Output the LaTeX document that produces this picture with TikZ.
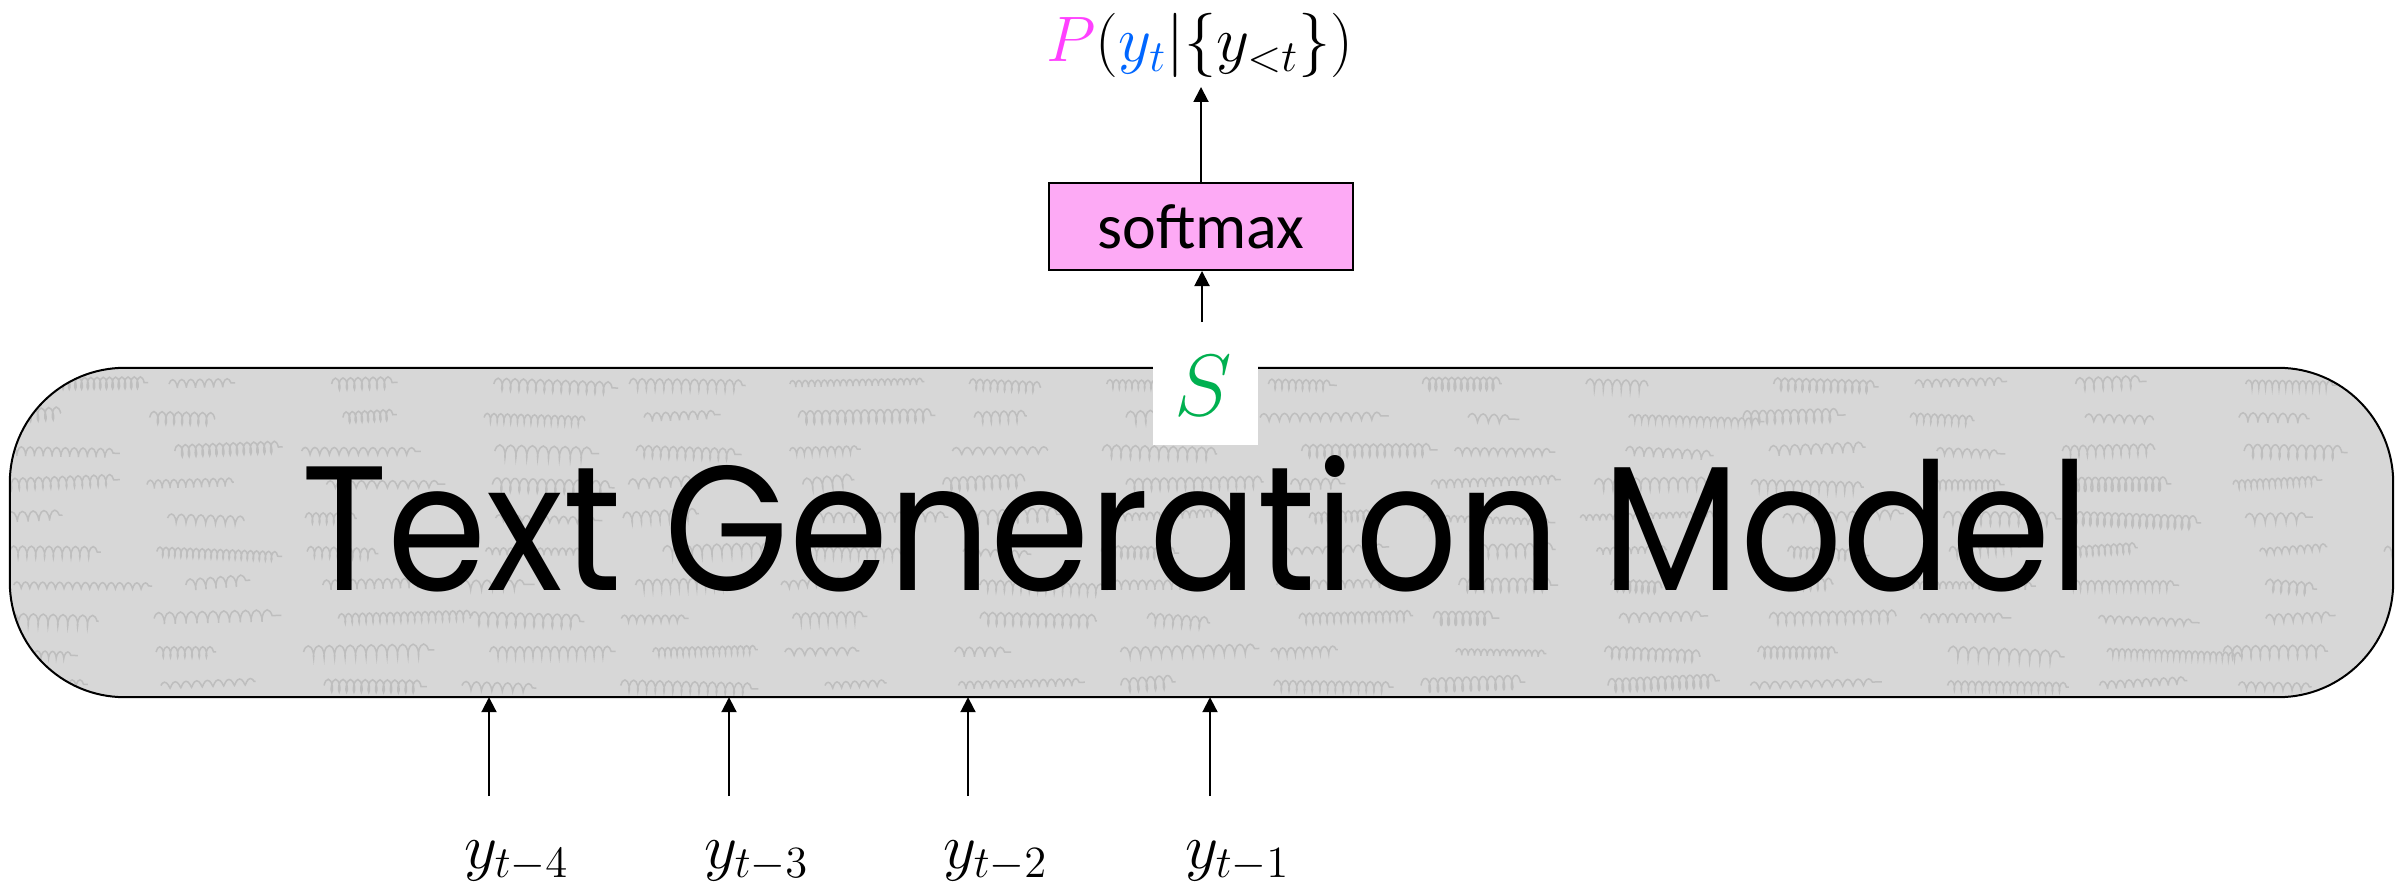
\documentclass[tikz,border=0pt]{standalone}
\usepackage{fontspec}
\usetikzlibrary{arrows.meta,decorations.pathmorphing,calc}
\newfontfamily\popfont{Poppins}
\newfontfamily\carfont{Carlito}
\definecolor{boxgray}{HTML}{D7D7D7}
\definecolor{handgray}{HTML}{BEBEBE}
\definecolor{softpink}{HTML}{FDAAF5}
\definecolor{pmag}{HTML}{FF40FF}
\definecolor{yblue}{HTML}{0066FF}
\definecolor{sgreen}{HTML}{00B050}
\newcommand{\bigmath}[2]{\scalebox{#1}{\fontsize{20.74}{25}\selectfont #2}}
\tikzset{
  arr/.style={line width=2pt,-{Triangle[length=15pt,width=15pt]}},
  hand/.style={handgray,line width=1.5pt,decorate},
  lbl/.style={inner sep=0pt},
}
\begin{document}
\begin{tikzpicture}[x=1pt,y=-1pt]
\useasboundingbox (0,0) rectangle (2405,885);
% model box
\node[fill=boxgray,rounded corners=115pt,minimum width=2383pt,minimum height=329pt,inner sep=0pt] (model) at (1201.5,532.5) {};
\begin{scope}
\clip[rounded corners=115pt] (model.north west) rectangle (model.south east);
\pgfmathsetseed{11}
\foreach \r in {0,...,9} {
  \pgfmathsetmacro\yy{384+\r*33.5}
  \foreach \w in {0,...,15} {
    \pgfmathsetmacro\xx{-20+\w*160+rnd*50}
    \pgfmathsetmacro\ll{50+rnd*90}
    \pgfmathsetmacro\dy{rnd*10-5}
    \pgfmathsetmacro\amp{3+rnd*4}
    \pgfmathsetmacro\seg{6+rnd*5}
    \draw[hand,decoration={coil,aspect=0.35,segment length=\seg pt,amplitude=\amp pt}] (\xx,\yy) -- ++(\ll,\dy);
  }
}
\end{scope}
\draw[line width=2pt,rounded corners=115pt] (model.north west) rectangle (model.south east);
\node[inner sep=0pt,anchor=base west] (title) at (301,590) {\resizebox{1788pt}{135pt}{\popfont Text Generation Model}};
% S box
\node[fill=white,minimum width=105pt,minimum height=123pt,inner sep=0pt] (sbox) at (1205.5,383.5) {};
\node[inner sep=0pt,text=sgreen] (s) at (1203,386) {\bigmath{4.2}{$S$}};
% softmax
\node[draw,line width=2pt,fill=softpink,minimum width=304pt,minimum height=87pt,inner sep=0pt,font=\carfont\fontsize{64}{70}\selectfont] (softmax) at (1201,226.5) {softmax};
% output
\node[inner sep=0pt,anchor=base] (out) at (1200,62) {\bigmath{3.1}{$\textcolor{pmag}{P}(\textcolor{yblue}{y_t}|\{y_{<t}\})$}};
\coordinate (sfrom) at (1202,322);
\draw[arr] (sfrom) -- (sfrom |- softmax.south);
\draw[arr] (softmax.north) -- ++(0,-95);
% inputs
\foreach \i/\x/\t in {4/489/4,3/729/3,2/968/2,1/1210/1} {
  \node[lbl,anchor=base west] (y\i) at (\x-25,868) {\bigmath{3.1}{$y_{t-\t}$}};
  \coordinate (c\i) at (\x,796);
  \draw[arr] (c\i) -- (c\i |- model.south);
}
\end{tikzpicture}
\end{document}
